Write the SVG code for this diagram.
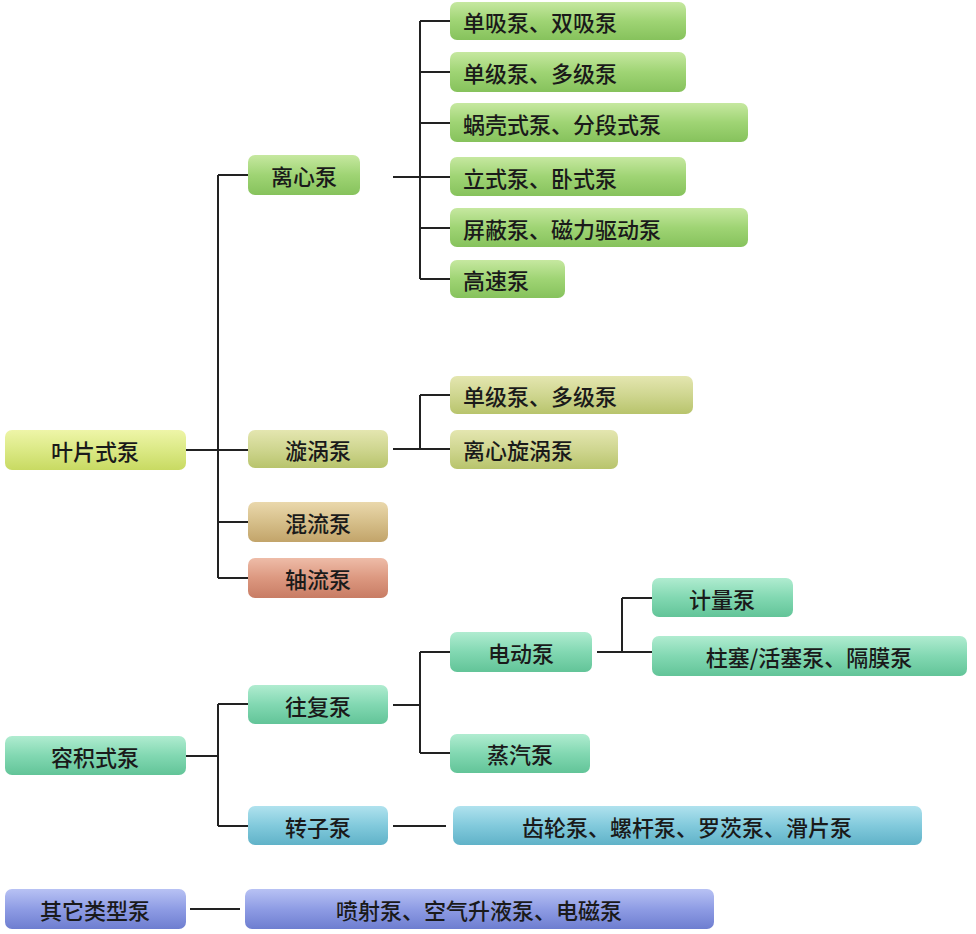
<svg xmlns="http://www.w3.org/2000/svg" width="976" height="934" viewBox="0 0 976 934">
<defs>
<linearGradient id="gG" x1="0" y1="0" x2="0" y2="1"><stop offset="0" stop-color="#c6e8a0"/><stop offset="0.5" stop-color="#9fd474"/><stop offset="1" stop-color="#86c25c"/></linearGradient>
<linearGradient id="gY" x1="0" y1="0" x2="0" y2="1"><stop offset="0" stop-color="#eef5a8"/><stop offset="0.5" stop-color="#dbe985"/><stop offset="1" stop-color="#c8da62"/></linearGradient>
<linearGradient id="gO" x1="0" y1="0" x2="0" y2="1"><stop offset="0" stop-color="#e4e6b0"/><stop offset="0.5" stop-color="#cfd690"/><stop offset="1" stop-color="#b8c46c"/></linearGradient>
<linearGradient id="gT" x1="0" y1="0" x2="0" y2="1"><stop offset="0" stop-color="#ead8ac"/><stop offset="0.5" stop-color="#d6bf8a"/><stop offset="1" stop-color="#c2a46a"/></linearGradient>
<linearGradient id="gR" x1="0" y1="0" x2="0" y2="1"><stop offset="0" stop-color="#eebca8"/><stop offset="0.5" stop-color="#dc9880"/><stop offset="1" stop-color="#c87c64"/></linearGradient>
<linearGradient id="gM" x1="0" y1="0" x2="0" y2="1"><stop offset="0" stop-color="#b0ecd0"/><stop offset="0.5" stop-color="#82d8b2"/><stop offset="1" stop-color="#62c498"/></linearGradient>
<linearGradient id="gC" x1="0" y1="0" x2="0" y2="1"><stop offset="0" stop-color="#b0e2ee"/><stop offset="0.5" stop-color="#82cadc"/><stop offset="1" stop-color="#60b2c8"/></linearGradient>
<linearGradient id="gB" x1="0" y1="0" x2="0" y2="1"><stop offset="0" stop-color="#b8c2f4"/><stop offset="0.5" stop-color="#8e9ce4"/><stop offset="1" stop-color="#6e7ed0"/></linearGradient>
</defs>
<style>
text{font-family:"Noto Sans CJK SC","Noto Sans",sans-serif;font-size:22px;fill:#1a1a1a;font-weight:500;dominant-baseline:central}
rect{stroke:none}
.c{text-anchor:middle}
#connectors path{fill:none;stroke:#222;stroke-width:2}
</style>
<rect width="976" height="934" fill="#fff"/>
<g id="connectors">
<path d="M186 450H218M218 175V578M218 175H248M218 450H248M218 522H248M218 578H248"/>
<path d="M393 177H420M420 21V279M420 21H450M420 72H450M420 123H450M420 177H450M420 228H450M420 279H450"/>
<path d="M393 449H450M420 395V449M420 395H450"/>
<path d="M186 756H218M218 704V826M218 704H248M218 826H248"/>
<path d="M393 705H420M420 652V753M420 652H450M420 753H450"/>
<path d="M597 652H652M622 598V652M622 598H652"/>
<path d="M393 826H446"/>
<path d="M190 909H240"/>
</g>
<g id="n1"><rect x="5" y="430" width="181" height="40" rx="7" fill="url(#gY)"/><text x="95" y="450" class="c">叶片式泵</text></g>
<g id="n2"><rect x="248" y="155" width="112" height="40" rx="7" fill="url(#gG)"/><text x="304" y="175" class="c">离心泵</text></g>
<g id="n3"><rect x="248" y="430" width="140" height="38" rx="7" fill="url(#gO)"/><text x="318" y="449" class="c">漩涡泵</text></g>
<g id="n4"><rect x="248" y="502" width="140" height="40" rx="7" fill="url(#gT)"/><text x="318" y="522" class="c">混流泵</text></g>
<g id="n5"><rect x="248" y="558" width="140" height="40" rx="7" fill="url(#gR)"/><text x="318" y="578" class="c">轴流泵</text></g>
<g id="n6"><rect x="450" y="2" width="236" height="38" rx="7" fill="url(#gG)"/><text x="463" y="21">单吸泵、双吸泵</text></g>
<g id="n7"><rect x="450" y="52" width="236" height="40" rx="7" fill="url(#gG)"/><text x="463" y="72">单级泵、多级泵</text></g>
<g id="n8"><rect x="450" y="103" width="298" height="39" rx="7" fill="url(#gG)"/><text x="463" y="123">蜗壳式泵、分段式泵</text></g>
<g id="n9"><rect x="450" y="157" width="236" height="39" rx="7" fill="url(#gG)"/><text x="463" y="177">立式泵、卧式泵</text></g>
<g id="n10"><rect x="450" y="208" width="298" height="39" rx="7" fill="url(#gG)"/><text x="463" y="228">屏蔽泵、磁力驱动泵</text></g>
<g id="n11"><rect x="450" y="260" width="115" height="38" rx="7" fill="url(#gG)"/><text x="463" y="279">高速泵</text></g>
<g id="n12"><rect x="450" y="376" width="243" height="38" rx="7" fill="url(#gO)"/><text x="463" y="395">单级泵、多级泵</text></g>
<g id="n13"><rect x="450" y="430" width="168" height="39" rx="7" fill="url(#gO)"/><text x="463" y="449">离心旋涡泵</text></g>
<g id="n14"><rect x="5" y="736" width="181" height="39" rx="7" fill="url(#gM)"/><text x="95" y="756" class="c">容积式泵</text></g>
<g id="n15"><rect x="248" y="685" width="140" height="39" rx="7" fill="url(#gM)"/><text x="318" y="705" class="c">往复泵</text></g>
<g id="n16"><rect x="248" y="806" width="140" height="39" rx="7" fill="url(#gC)"/><text x="318" y="826" class="c">转子泵</text></g>
<g id="n17"><rect x="450" y="632" width="142" height="40" rx="7" fill="url(#gM)"/><text x="521" y="652" class="c">电动泵</text></g>
<g id="n18"><rect x="450" y="734" width="140" height="39" rx="7" fill="url(#gM)"/><text x="520" y="753" class="c">蒸汽泵</text></g>
<g id="n19"><rect x="652" y="578" width="141" height="39" rx="7" fill="url(#gM)"/><text x="722" y="598" class="c">计量泵</text></g>
<g id="n20"><rect x="652" y="636" width="315" height="40" rx="7" fill="url(#gM)"/><text x="809" y="656" class="c">柱塞/活塞泵、隔膜泵</text></g>
<g id="n21"><rect x="453" y="806" width="469" height="39" rx="7" fill="url(#gC)"/><text x="687" y="826" class="c">齿轮泵、螺杆泵、罗茨泵、滑片泵</text></g>
<g id="n22"><rect x="5" y="889" width="181" height="40" rx="7" fill="url(#gB)"/><text x="95" y="909" class="c">其它类型泵</text></g>
<g id="n23"><rect x="245" y="889" width="469" height="40" rx="7" fill="url(#gB)"/><text x="479" y="909" class="c">喷射泵、空气升液泵、电磁泵</text></g>
</svg>
